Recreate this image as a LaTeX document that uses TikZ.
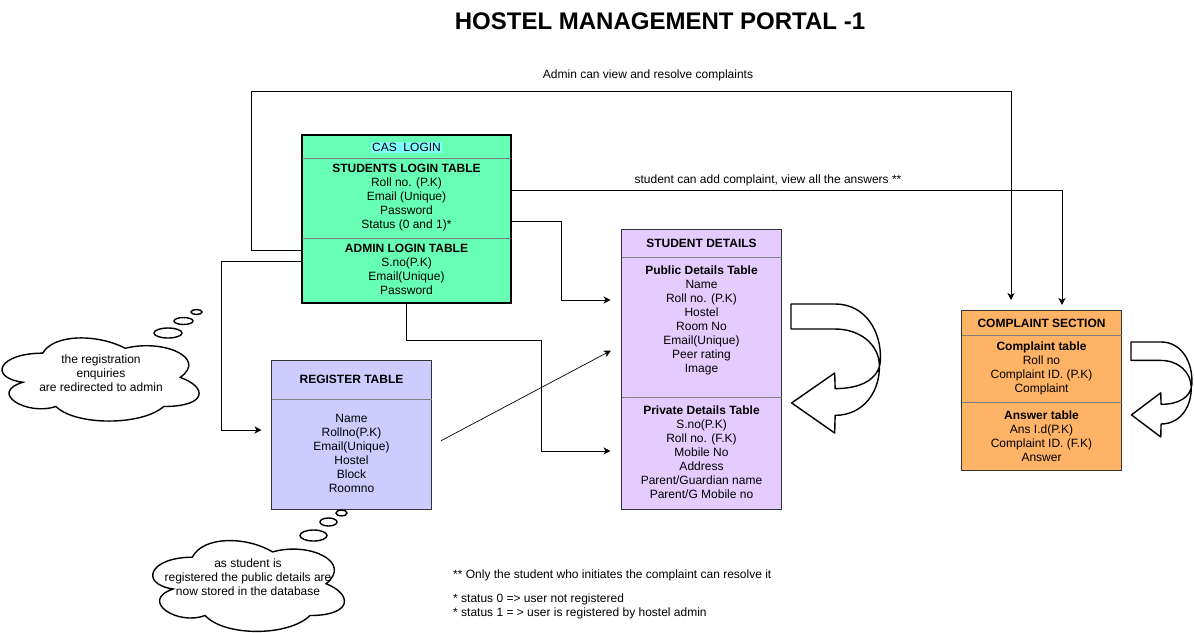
\documentclass[tikz,border=0pt]{standalone}
\usepackage{fontspec}
\setmainfont{Liberation Sans}
\usetikzlibrary{arrows.meta,positioning}
\definecolor{casgreen}{HTML}{66FFB3}
\definecolor{casblue}{HTML}{80FFFF}
\definecolor{detpurple}{HTML}{E5CCFF}
\definecolor{regblue}{HTML}{CCCCFF}
\definecolor{comporange}{HTML}{FFB366}
\definecolor{sepgray}{HTML}{808080}
\tikzset{
	tbl/.style={draw=black!80, rectangle, inner sep=0pt, outer sep=0pt, anchor=north west},
	rows/.style={align=center, inner sep=0pt, font=\fontsize{12}{14}\selectfont},
	hd/.style={rows, font=\fontsize{12}{14}\selectfont\bfseries},
	sep/.style={draw=sepgray, line width=0.8pt},
	conn/.style={-{Stealth[length=7pt,width=7pt,inset=2pt]}, line width=1pt},
	note/.style={inner sep=0pt, font=\fontsize{12}{14}\selectfont},
	bubble/.style={draw, line width=1.4pt, fill=white},
	thought/.pic={
		\draw[line width=1.4pt, fill=white]
			(0.25,0.25) .. controls (0.05,0.25) and (0,0.5) .. (0.16,0.55)
			.. controls (0,0.66) and (0.18,0.9) .. (0.31,0.8)
			.. controls (0.4,1) and (0.7,1) .. (0.8,0.8)
			.. controls (1,0.8) and (1,0.6) .. (0.875,0.5)
			.. controls (1,0.3) and (0.8,0.1) .. (0.625,0.2)
			.. controls (0.5,0.05) and (0.3,0.05) .. (0.25,0.25) -- cycle;
	},
	uturn/.pic={
		\draw[line width=1.4pt, fill=white, line join=round]
			(0,0) -- (0.485,0)
			.. controls (0.816,0) and (1,0.212) .. (0.982,0.444)
			.. controls (0.963,0.587) and (0.761,0.656) .. (0.485,0.656)
			-- (0.48,0.535) -- (0.007,0.767) -- (0.48,1) -- (0.485,0.863)
			.. controls (0.798,0.863) and (0.982,0.677) .. (0.971,0.47)
			.. controls (0.963,0.315) and (0.761,0.194) .. (0.485,0.194)
			-- (0,0.194) -- cycle;
	}
}
\begin{document}
\begin{tikzpicture}[x=1pt,y=-1pt]
\useasboundingbox (0,0) rectangle (1194,632);

\node[font=\fontsize{24}{28}\selectfont\bfseries, inner sep=0pt] (title) at (660,21) {HOSTEL MANAGEMENT PORTAL -1};

% cas login
\node[tbl, draw=black, line width=2pt, fill=casgreen, minimum width=209pt, minimum height=168pt] (cas) at (302,135) {};
\node[rows, fill=casblue, inner sep=1pt] (cashd) at (406.5,147.5) {CAS\ \ LOGIN};
\draw[sep] (302,158.5) -- (511,158.5);
\node[rows] (stulogin) at (406.5,198) {\textbf{STUDENTS LOGIN TABLE}\\Roll no. (P.K)\\Email (Unique)\\Password\\Status (0 and 1)*};
\draw[sep] (302,238) -- (511,238);
\node[rows] (admlogin) at (406.5,269) {\textbf{ADMIN LOGIN TABLE}\\S.no(P.K)\\Email(Unique)\\Password};

% student details
\node[tbl, fill=detpurple, minimum width=160pt, minimum height=280pt] (sd) at (621.5,229.5) {};
\node[hd] (sdhd) at (701.5,243.5) {STUDENT DETAILS};
\draw[sep] (621.5,257.5) -- (781.5,257.5);
\node[rows] (pub) at (701.5,320) {\textbf{Public Details Table}\\Name\\Roll no. (P.K)\\Hostel\\Room No\\Email(Unique)\\Peer rating\\Image};
\draw[sep] (621.5,397.5) -- (781.5,397.5);
\node[rows] (priv) at (701.5,452.5) {\textbf{Private Details Table}\\S.no(P.K)\\Roll no. (F.K)\\Mobile No\\Address\\Parent/Guardian name\\Parent/G Mobile no};

% complaint section
\node[tbl, fill=comporange, minimum width=160pt, minimum height=160pt] (cs) at (961.5,310) {};
\node[hd] (cshd) at (1041.5,323) {COMPLAINT SECTION};
\draw[sep] (961.5,335.5) -- (1121.5,335.5);
\node[rows] (comp) at (1041.5,368.5) {\textbf{Complaint table}\\Roll no\\Complaint ID. (P.K)\\Complaint};
\draw[sep] (961.5,402.5) -- (1121.5,402.5);
\node[rows] (ans) at (1041.5,436) {\textbf{Answer table}\\Ans I.d(P.K)\\Complaint ID. (F.K)\\Answer};

% register table
\node[tbl, fill=regblue, minimum width=160pt, minimum height=148.5pt] (reg) at (271.5,360.5) {};
\node[hd] (reghd) at (351.5,379.5) {REGISTER TABLE};
\draw[sep] (271.5,399.5) -- (431.5,399.5);
\node[rows] (regrows) at (351.5,453.5) {Name\\Rollno(P.K)\\Email(Unique)\\Hostel\\Block\\Roomno};

% thoughts
\pic[xscale=220, yscale=97] (cl1) at (-12.3,328.9) {thought};
\node[rows] (cl1txt) at (101,373) {the registration\\enquiries\\are redirected to admin};
\draw[bubble] (168,333) ellipse [x radius=14, y radius=5];
\draw[bubble] (183.5,321) ellipse [x radius=9.5, y radius=3.5];
\draw[bubble] (196.5,312) ellipse [x radius=5.5, y radius=2.5];
\pic[xscale=214, yscale=106] (cl2) at (138.8,530.7) {thought};
\node[rows] (cl2txt) at (248,577.5) {as student is\\registered the public details are\\now stored in the database};
\draw[bubble] (313.5,535.5) ellipse [x radius=13.5, y radius=5.5];
\draw[bubble] (328.5,522) ellipse [x radius=8.5, y radius=4];
\draw[bubble] (341.5,513) ellipse [x radius=5.5, y radius=3];

% u-turn arrows
\pic[xscale=91, yscale=129] (upub) at (791,304) {uturn};
\pic[xscale=62, yscale=95] (ucs) at (1131,342) {uturn};

% connectors
\draw[conn, shorten >=10pt] ([yshift=-31pt]cas.west) -| (251,91) -| ([xshift=-30.5pt]cs.north);
\node[note] (admlbl) at (648,75) {Admin can view and resolve complaints};
\draw[conn, shorten >=5pt] ([yshift=29pt]cas.east) -| ([xshift=20.5pt]cs.north);
\node[note] (stulbl) at (768,180) {student can add complaint, view all the answers **};
\draw[conn, shorten >=11pt] ([yshift=-2pt]cas.east) -| (561,300) -- ([yshift=69.5pt]sd.west);
\draw[conn, shorten >=11pt] (cas.south) |- (541,340) |- ([yshift=-81.5pt]sd.west);
\draw[conn, line width=0.7pt, shorten >=12pt] ([xshift=9.5pt,yshift=-6pt]reg.east) -- ([yshift=24.5pt]sd.west);
\draw[conn, shorten >=10pt] ([yshift=-42pt]cas.west) -| (221,430) -- ([yshift=4.75pt]reg.west);

% notes
\node[note, anchor=west] (note1) at (453,575) {** Only the student who initiates the complaint can resolve it};
\node[note, anchor=west, align=left] (note2) at (453,606.5) {* status 0 => user not registered\\* status 1 = > user is registered by hostel admin};
\end{tikzpicture}
\end{document}
